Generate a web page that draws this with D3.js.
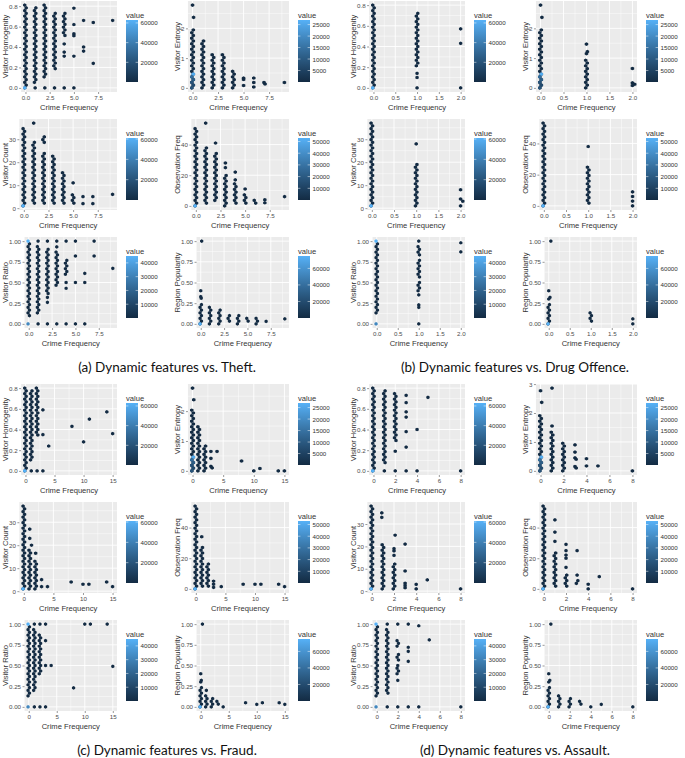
<!DOCTYPE html>
<html>
<head>
<meta charset="utf-8">
<script src="https://cdn.jsdelivr.net/npm/d3@7"></script>
<style>
  body { margin: 0; background: #fff; }
  svg { display: block; font-family: "Liberation Sans", Arial, sans-serif; }
</style>
</head>
<body>
<svg id="chart" width="685" height="758"></svg>
<script>
// ---- axis ticks ----
const theftTicks = [0, 2.5, 5, 7.5];
const drugTicks = [0, 0.5, 1, 1.5, 2];
const fraudTicks = [0, 5, 10, 15];
const assaultTicks = [0, 2, 4, 6, 8];

const features = ['Visitor Homogenity', 'Visitor Entropy', 'Visitor Count',
  'Observation Freq', 'Visitor Ratio', 'Region Popularity'];
const yTickValues = [
  [0, 0.2, 0.4, 0.6, 0.8],
  [0, 1, 2, 3],
  [0, 10, 20, 30],
  [0, 20, 40],
  [0, 0.25, 0.5, 0.75, 1],
  [0, 0.25, 0.5, 0.75, 1]
];
const yFormats = ['.1f', 'd', 'd', 'd', '.2f', '.2f'];

// ---- colour legends (hex counts) ----
const legendTicks = [
  [20000, 40000, 60000],
  [5000, 10000, 15000, 20000, 25000],
  [20000, 40000, 60000],
  [10000, 20000, 30000, 40000, 50000],
  [10000, 20000, 30000, 40000],
  [20000, 40000, 60000]
];
const legendMax = [63000, 27000, 61000, 53000, 45000, 75000];

// ---- occupied hex bins: [x, yFrom, yTo] runs or [x, y] single bins ----
const theftHomogenity = [
  [0, 0, 0.8],
  [1, 0.06, 0.79], [1, 0],
  [2, 0.1, 0.81], [2, 0],
  [3, 0.2, 0.74], [3, 0],
  [4, 0.5, 0.74], [4, 0.43], [4, 0.35], [4, 0.31], [4, 0],
  [5, 0.78], [5, 0.62], [5, 0.53], [5, 0.51], [5, 0.31], [5, 0],
  [6, 0.66], [6, 0.4], [6, 0.36],
  [7, 0.64], [7, 0.24],
  [9, 0.66]
];
const theftEntropy = [
  [0, 0, 1.95], [0.1, 2.37], [0, 2.78],
  [1, 0, 1.55],
  [2, 0, 1.07],
  [3, 0, 1.07],
  [4, 0, 0.6],
  [5, 0.33], [5, 0.28], [5, 0.08],
  [6, 0.33], [6, 0.18], [6, 0.03],
  [7, 0.18], [7.1, 0.13],
  [9, 0.18]
];
const theftCount = [
  [0, 1, 35], [1, 37],
  [1, 2, 29],
  [2, 2, 24], [2, 28, 31],
  [3, 2, 22],
  [4, 2, 15],
  [5, 11], [5, 2, 6],
  [6, 5], [6, 2],
  [7, 5], [7, 2],
  [9, 6]
];
const theftObsFreq = [
  [0, 0, 50],
  [1, 54], [1, 2, 37],
  [2, 41], [2, 3, 34],
  [3, 28], [3, 25], [3, 0, 19],
  [4, 22], [4, 17], [4, 2, 15],
  [5, 11], [5, 2, 8],
  [6, 2, 4],
  [7, 4], [7, 2],
  [9, 6]
];
const theftRatio = [
  [0, 0.1, 0.96],
  [1, 1], [1, 0.13, 0.93], [1, 0],
  [2, 1], [2, 0.37, 0.9], [2, 0.32], [2, 0.26], [2, 0],
  [3, 1], [3, 0.93], [3, 0.45, 0.87], [3, 0],
  [4, 1], [4, 0.6, 0.78], [4, 0.5], [4, 0.43], [4, 0],
  [5, 1], [5, 0.82], [5, 0.5], [5, 0],
  [6, 0.61], [6, 0.5], [6, 0],
  [7, 1], [7, 0.82],
  [9, 0.67]
];
const theftPopularity = [
  [0.1, 1], [0, 0.4], [0, 0.33], [0.05, 0.31], [0, 0, 0.23],
  [1, 0, 0.2],
  [2, 0, 0.16],
  [3, 0.02, 0.11],
  [4, 0, 0.09],
  [5, 0.02, 0.08],
  [6, 0, 0.06],
  [7, 0.03],
  [9, 0.06]
];

const drugHomogenity = [
  [0, 0, 0.8],
  [1, 0.21, 0.73], [1, 0.14], [1, 0.1], [1, 0],
  [2, 0.57], [2, 0.43], [2, 0]
];
const drugEntropy = [
  [0, 0, 1.95], [0.03, 2.37], [0, 2.78],
  [1, 1.47], [1.02, 1.22], [1, 1.15], [1, 0, 0.95],
  [2, 0.65], [2, 0.17], [2.05, 0.12], [2, 0.08]
];
const drugCount = [
  [0, 1, 37],
  [1, 28], [1, 1, 19],
  [2, 8], [2, 4], [2.05, 3], [2, 1]
];
const drugObsFreq = [
  [0, 0, 53],
  [1, 38], [1, 1, 25],
  [2, 9], [2, 6], [2, 3], [2, 0]
];
const drugRatio = [
  [0, 0.12, 0.96],
  [1, 1], [1, 0.83, 0.92], [1, 0.55, 0.75], [1, 0.4, 0.5], [1, 0.35], [1, 0.23], [1, 0.2], [1, 0],
  [2, 0.98], [2, 0.87]
];
const drugPopularity = [
  [0.05, 1], [0, 0.4], [0.03, 0.32], [0, 0.3], [0, 0, 0.22],
  [1, 0.03, 0.12],
  [2, 0.06], [2, 0]
];

const fraudHomogenity = [
  [0, 0, 0.8],
  [1, 0.1, 0.76], [1, 0],
  [2, 0.36, 0.79], [2, 0],
  [3, 0.59], [3, 0.35], [3, 0],
  [4, 0.24],
  [8, 0.43], [10, 0.28], [11, 0.5], [14, 0.57], [15, 0.36]
];
const fraudEntropy = [
  [0, 0, 2.0], [0.2, 2.38], [0, 2.77],
  [1, 0, 1.48],
  [2, 0, 0.82],
  [3, 0.65], [3, 0.42], [3, 0.15], [3.2, 0.1],
  [4, 0.65],
  [8, 0.33], [10, 0], [11, 0.08], [14, 0], [15, 0]
];
const fraudCount = [
  [0, 1, 37],
  [1, 27], [1, 23], [1.3, 20], [1, 1, 18],
  [2, 16.5], [2, 1, 13],
  [3, 5], [3, 2],
  [4, 2],
  [8, 4], [10, 3], [11, 3], [14, 4], [15, 2]
];
const fraudObsFreq = [
  [0, 0, 54],
  [1, 34], [1, 1, 27],
  [2, 1, 17],
  [3, 5], [3, 3], [3, 1],
  [4.3, 1.5],
  [8, 3], [10, 3], [11, 3], [14, 3], [15, 1.5]
];
const fraudRatio = [
  [0, 0.12, 0.96],
  [1, 1], [1, 0.2, 0.93], [1, 0],
  [2, 1], [2, 0.4, 0.88], [2, 0],
  [3, 1], [3, 0.8], [3, 0.5], [3, 0],
  [4, 0.5],
  [8, 0.23], [10, 1], [11, 1], [14, 1], [15, 0.49]
];
const fraudPopularity = [
  [0.3, 1], [0, 0.4], [0.1, 0.32], [0, 0.3], [0, 0, 0.23],
  [1, 0.2], [1, 0, 0.13],
  [2, 0, 0.09],
  [3, 0.02, 0.07],
  [4, 0],
  [8, 0.05], [10, 0.03], [11, 0.05], [14, 0.05], [15, 0.03]
];

const assaultHomogenity = [
  [0, 0, 0.8],
  [1, 0.07, 0.78], [1, 0],
  [2, 0.3, 0.74], [2, 0.19], [2, 0],
  [3, 0.73], [3, 0.66], [3, 0.57], [3, 0.52], [3, 0.38], [3, 0.23], [3, 0],
  [4, 0.4], [4, 0],
  [5, 0.71],
  [8, 0]
];
const assaultEntropy = [
  [0, 0, 1.95], [0.1, 2.37], [0, 2.77],
  [1, 2.86], [1, 1.55], [1, 0, 1.3],
  [2, 0, 1.0],
  [3, 0.9], [3, 0.65], [3, 0.45], [3.1, 0.4], [3, 0.15], [3.1, 0.1],
  [4, 0.42], [4, 0.17],
  [5, 0.17],
  [8, 0]
];
const assaultCount = [
  [0, 1, 38],
  [0.9, 35], [0.9, 33], [1, 1, 21],
  [2.1, 25], [2, 19], [2, 18], [2, 16], [2, 1, 12],
  [3, 21], [3, 9], [3, 3.5], [3, 2.5], [3, 1.5],
  [4, 3], [4, 1],
  [5, 5],
  [8, 1]
];
const assaultObsFreq = [
  [0, 0, 54],
  [1, 45], [1, 37], [1, 31], [1, 1, 24],
  [2, 29], [2, 25], [2, 22], [2, 20], [2, 14], [2, 1, 9],
  [3, 25], [3, 9], [3, 3, 5],
  [4, 3], [4, 0],
  [5, 8],
  [8, 0]
];
const assaultRatio = [
  [0, 0.12, 0.96],
  [1, 1], [1, 0.17, 0.92], [1, 0],
  [2, 1], [2, 0.72, 0.8], [2, 0.57, 0.62], [2, 0.5], [2, 0.4, 0.45], [2, 0.32], [2, 0],
  [3, 1], [3, 0.72], [3, 0.67], [3, 0.55], [3, 0],
  [4, 0.98], [4, 0],
  [5, 0.81],
  [8, 0]
];
const assaultPopularity = [
  [0.2, 1], [0, 0.4], [0.1, 0.32], [0, 0.3], [0, 0, 0.22],
  [1, 0, 0.14],
  [2, 0, 0.09],
  [3, 0.02, 0.05],
  [4, 0],
  [5, 0.03],
  [8, 0]
];

// bins with large counts (light blue): [x, y, count]
const homogenityHot = [[0, 0, 63000]];
const entropyHot = [[0, 0.5, 26000], [0, 0.4, 14000], [0, 0.3, 11000], [0, 0.2, 9000], [0, 0.1, 7000], [0, 0, 9000]];
const countHot = [[0, 1, 61000]];
const obsFreqHot = [[0, 0, 53000]];
const ratioHot = [[0, 1, 45000], [0, 0, 32000]];
const popularityHot = [[0, 0, 75000]];
const hotBins = [homogenityHot, entropyHot, countHot, obsFreqHot, ratioHot, popularityHot];

const groups = [
  { caption: '(a) Dynamic features vs. Theft.', ox: 0, oy: 0, xMax: 9, xTicks: theftTicks, xFormat: '.1f',
    panels: [theftHomogenity, theftEntropy, theftCount, theftObsFreq, theftRatio, theftPopularity] },
  { caption: '(b) Dynamic features vs. Drug Offence.', ox: 348, oy: 0, xMax: 2, xTicks: drugTicks, xFormat: '.1f',
    panels: [drugHomogenity, drugEntropy, drugCount, drugObsFreq, drugRatio, drugPopularity] },
  { caption: '(c) Dynamic features vs. Fraud.', ox: 0, oy: 383, xMax: 15, xTicks: fraudTicks, xFormat: 'd',
    panels: [fraudHomogenity, fraudEntropy, fraudCount, fraudObsFreq, fraudRatio, fraudPopularity] },
  { caption: '(d) Dynamic features vs. Assault.', ox: 348, oy: 383, xMax: 8, xTicks: assaultTicks, xFormat: 'd',
    panels: [assaultHomogenity, assaultEntropy, assaultCount, assaultObsFreq, assaultRatio, assaultPopularity] }
];

const LOW = '#132B43', HIGH = '#56B1F7';
const tickFontSize = 6.2, titleFontSize = 7.6;
const svg = d3.select('#chart');
const defs = svg.append('defs');

const measureCtx = document.createElement('canvas').getContext('2d');
measureCtx.font = `${tickFontSize}px "Liberation Sans"`;
const textWidth = s => measureCtx.measureText(s).width;

function minors(ticks, lo, hi) {
  const step = ticks[1] - ticks[0];
  return [ticks[0] - step / 2, ...ticks.map(t => t + step / 2)].filter(m => m > lo && m < hi);
}

function hexPath(hw, r) {
  return `M0,${-r}L${hw},${-r / 2}L${hw},${r / 2}L0,${r}L${-hw},${r / 2}L${-hw},${-r / 2}Z`;
}

// gradients for the colour bars
features.forEach((f, fi) => {
  const c = d3.scaleLinear().domain([0, 1]).range([LOW, HIGH]).interpolate(d3.interpolateLab);
  const grad = defs.append('linearGradient')
    .attr('id', `grad${fi}`)
    .attr('x1', 0).attr('y1', 1).attr('x2', 0).attr('y2', 0);
  d3.range(0, 1.0001, 0.1).forEach(t => {
    grad.append('stop').attr('offset', t).attr('stop-color', c(t));
  });
});

function drawPanel(group, fi, bx, by) {
  const bins = group.panels[fi];
  const g = svg.append('g');

  const [yMin, yMax] = d3.extent(bins.flatMap(b => b.slice(1)));
  const yPad = (yMax - yMin) * 0.05;
  const xPad = group.xMax * 0.05;
  const yDom = [yMin - yPad, yMax + yPad];
  const xDom = [-xPad, group.xMax + xPad];
  const yFmt = d3.format(yFormats[fi]);
  const xFmt = d3.format(group.xFormat);
  const yTicks = yTickValues[fi].filter(t => t >= yDom[0] && t <= yDom[1]);
  const labelW = d3.max(yTicks, t => textWidth(yFmt(t)));

  const left = bx + 9 + labelW + 3.5, right = bx + 117, top = by + 1, bottom = by + 92;
  const x = d3.scaleLinear().domain(xDom).range([left, right]);
  const y = d3.scaleLinear().domain(yDom).range([bottom, top]);

  g.append('rect')
    .attr('x', left).attr('y', top)
    .attr('width', right - left).attr('height', bottom - top)
    .attr('fill', '#EBEBEB');

  // grid
  minors(group.xTicks, xDom[0], xDom[1]).forEach(v => {
    g.append('line').attr('x1', x(v)).attr('x2', x(v)).attr('y1', top).attr('y2', bottom)
      .attr('stroke', '#fff').attr('stroke-width', 0.45);
  });
  minors(yTickValues[fi], yDom[0], yDom[1]).forEach(v => {
    g.append('line').attr('x1', left).attr('x2', right).attr('y1', y(v)).attr('y2', y(v))
      .attr('stroke', '#fff').attr('stroke-width', 0.45);
  });
  group.xTicks.forEach(v => {
    g.append('line').attr('x1', x(v)).attr('x2', x(v)).attr('y1', top).attr('y2', bottom)
      .attr('stroke', '#fff').attr('stroke-width', 0.9);
  });
  yTicks.forEach(v => {
    g.append('line').attr('x1', left).attr('x2', right).attr('y1', y(v)).attr('y2', y(v))
      .attr('stroke', '#fff').attr('stroke-width', 0.9);
  });

  // hex bins
  const color = d3.scaleLinear().domain([1, legendMax[fi]]).range([LOW, HIGH]).interpolate(d3.interpolateLab);
  const xbw = group.xMax / 30;
  const ybw = (yMax - yMin) / 30;
  const cells = [];
  const snap = (bx0, yv, v) => {
    const k = Math.round((yv - yMin) / ybw);
    return { x: bx0 + (k % 2 ? xbw / 4 : -xbw / 4), y: yMin + k * ybw, v };
  };
  bins.forEach(b => {
    if (b.length === 2) {
      cells.push({ x: b[0], y: b[1], v: 1 });
      return;
    }
    const k0 = Math.round((b[1] - yMin) / ybw);
    const k1 = Math.round((b[2] - yMin) / ybw);
    for (let k = k0; k <= k1; k++) cells.push(snap(b[0], yMin + k * ybw, 1));
  });
  hotBins[fi].forEach(h => cells.push(snap(h[0], h[1], h[2])));

  const hw = Math.abs(x(xbw) - x(0)) * 0.58;
  const r = Math.abs(y(0) - y(ybw)) * 0.66;
  const hex = hexPath(hw, r);
  g.append('g').selectAll('path')
    .data(cells)
    .enter()
    .append('path')
    .attr('d', hex)
    .attr('transform', d => `translate(${x(d.x)},${y(d.y)})`)
    .attr('fill', d => color(d.v));

  // axes
  const xAxis = g.append('g')
    .attr('transform', `translate(0,${bottom})`)
    .call(d3.axisBottom(x).tickValues(group.xTicks).tickFormat(xFmt).tickSize(2).tickPadding(1.5));
  const yAxis = g.append('g')
    .attr('transform', `translate(${left},0)`)
    .call(d3.axisLeft(y).tickValues(yTicks).tickFormat(yFmt).tickSize(2).tickPadding(1.5));
  [xAxis, yAxis].forEach(a => {
    a.select('.domain').remove();
    a.selectAll('line').attr('stroke', '#333').attr('stroke-width', 0.5);
    a.selectAll('text')
      .attr('fill', '#4D4D4D')
      .style('font-size', `${tickFontSize}px`)
      .style('font-family', '"Liberation Sans", Arial, sans-serif');
  });

  g.append('text')
    .attr('x', (left + right) / 2)
    .attr('y', by + 110)
    .attr('text-anchor', 'middle')
    .style('font-size', `${titleFontSize}px`)
    .attr('fill', '#333')
    .text('Crime Frequency');

  g.append('text')
    .attr('transform', `translate(${bx + 5},${(top + bottom) / 2}) rotate(-90)`)
    .attr('text-anchor', 'middle')
    .attr('dominant-baseline', 'central')
    .style('font-size', `${titleFontSize}px`)
    .attr('fill', '#333')
    .text(features[fi]);

  // colour bar legend
  const lx = bx + 126, barTop = by + 20, barBottom = by + 82, barW = 12;
  g.append('text')
    .attr('x', lx).attr('y', by + 17.5)
    .style('font-size', `${titleFontSize}px`)
    .attr('fill', '#333')
    .text('value');
  g.append('rect')
    .attr('x', lx).attr('y', barTop)
    .attr('width', barW).attr('height', barBottom - barTop)
    .attr('fill', `url(#grad${fi})`);
  const ly = d3.scaleLinear().domain([1, legendMax[fi]]).range([barBottom, barTop]);
  legendTicks[fi].forEach(t => {
    g.append('line').attr('x1', lx).attr('x2', lx + 2.4).attr('y1', ly(t)).attr('y2', ly(t))
      .attr('stroke', '#fff').attr('stroke-width', 0.5);
    g.append('line').attr('x1', lx + barW - 2.4).attr('x2', lx + barW).attr('y1', ly(t)).attr('y2', ly(t))
      .attr('stroke', '#fff').attr('stroke-width', 0.5);
    g.append('text')
      .attr('x', lx + barW + 2.5).attr('y', ly(t))
      .attr('dominant-baseline', 'central')
      .style('font-size', `${tickFontSize}px`)
      .attr('fill', '#333')
      .text(t);
  });
}

groups.forEach(group => {
  group.panels.forEach((bins, fi) => {
    const col = fi % 2, row = Math.floor(fi / 2);
    drawPanel(group, fi, group.ox + col * 172, group.oy + row * 118);
  });

  svg.append('text')
    .attr('x', group.ox + 167)
    .attr('y', group.oy + 372)
    .attr('text-anchor', 'middle')
    .style('font-family', 'Lato, "Noto Sans", sans-serif')
    .style('font-size', '13.5px')
    .attr('fill', '#111')
    .text(group.caption);
});
</script>
</body>
</html>
